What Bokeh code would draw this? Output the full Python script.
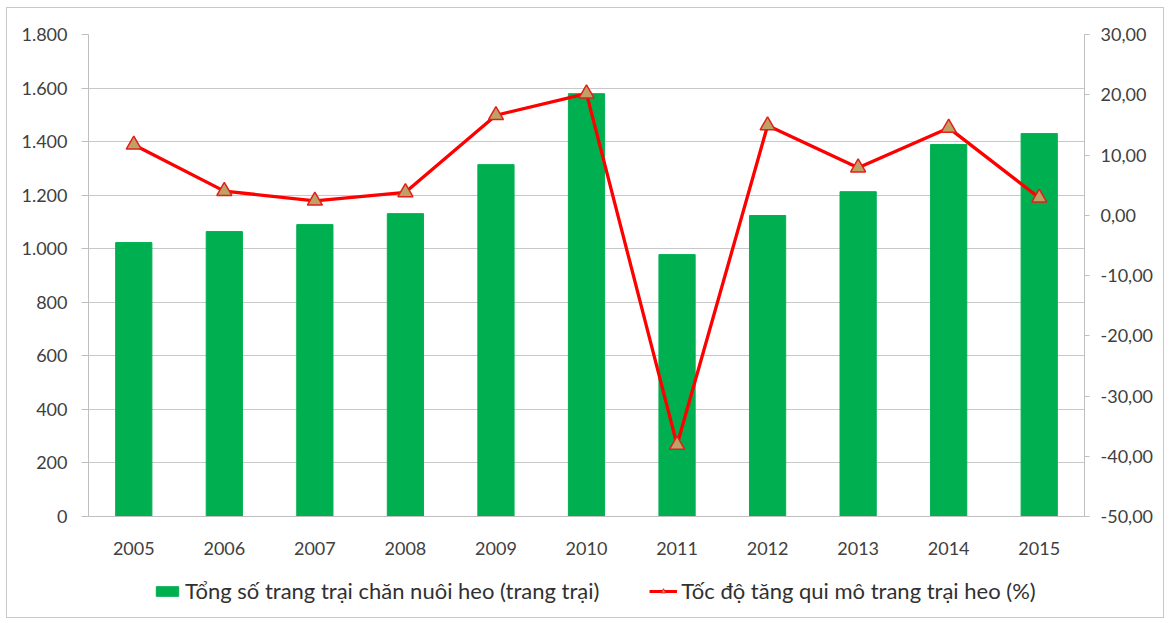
from bokeh.plotting import figure
from bokeh.layouts import column
from bokeh.models import (Range1d, LinearAxis, FixedTicker, Legend, LegendItem, FactorRange)
from bokeh.embed import file_html
from bokeh.resources import INLINE

years = ["2005", "2006", "2007", "2008", "2009", "2010", "2011", "2012", "2013", "2014", "2015"]
farms_total = [1023, 1064, 1090, 1131, 1314, 1579, 978, 1124, 1213, 1389, 1430]
growth_pct = [11.7, 4.0, 2.4, 3.8, 16.6, 20.2, -38.1, 14.9, 7.9, 14.5, 2.9]

left_ticks = [0, 200, 400, 600, 800, 1000, 1200, 1400, 1600, 1800]
left_labels = ["0", "200", "400", "600", "800", "1.000", "1.200", "1.400", "1.600", "1.800"]
right_ticks = [-50, -40, -30, -20, -10, 0, 10, 20, 30]
right_labels = ["-50,00", "-40,00", "-30,00", "-20,00", "-10,00", "0,00", "10,00", "20,00", "30,00"]

bar_name = "Tổng số trang trại chăn nuôi heo (trang trại)"
line_name = "Tốc độ tăng qui mô trang trại heo (%)"

FONT = "Lato"
LABEL_COLOR = "#404040"
AXIS_COLOR = "#bfbfbf"
BAR_COLOR = "#00B050"
LINE_COLOR = "#FF0000"
MK_FILL = "#BFA165"
MK_LINE = "#E0201A"

p = figure(width=1156, height=552, x_range=FactorRange(*years), y_range=Range1d(0, 1800),
           output_backend="svg", toolbar_location=None,
           min_border_left=81, min_border_right=79, min_border_top=26, min_border_bottom=44)
p.outline_line_color = None
p.background_fill_color = "white"
p.x_range.range_padding = 0
p.extra_y_ranges = {"pct": Range1d(-50, 30)}

p.vbar(x=years, top=farms_total, width=0.4, color=BAR_COLOR)
p.line(x=years, y=growth_pct, y_range_name="pct", line_color=LINE_COLOR, line_width=3.3)
p.scatter(x=years, y=growth_pct, y_range_name="pct", marker="triangle", size=15,
          fill_color=MK_FILL, line_color=MK_LINE, line_width=1.5)

# left axis
ya = p.yaxis[0]
ya.ticker = FixedTicker(ticks=left_ticks)
ya.major_label_overrides = {t: l for t, l in zip(left_ticks, left_labels)}
ya.axis_line_color = AXIS_COLOR
ya.major_tick_line_color = AXIS_COLOR
ya.major_tick_out = 7
ya.major_tick_in = 0
ya.minor_tick_line_color = None
ya.major_label_text_font = FONT
ya.major_label_text_font_size = "18px"
ya.major_label_text_color = LABEL_COLOR
ya.major_label_standoff = 14

# right axis
ra = LinearAxis(y_range_name="pct", ticker=FixedTicker(ticks=right_ticks))
ra.major_label_overrides = {t: l for t, l in zip(right_ticks, right_labels)}
ra.axis_line_color = AXIS_COLOR
ra.major_tick_line_color = AXIS_COLOR
ra.major_tick_out = 5
ra.major_tick_in = 0
ra.minor_tick_line_color = None
ra.major_label_text_font = FONT
ra.major_label_text_font_size = "18px"
ra.major_label_text_color = LABEL_COLOR
ra.major_label_standoff = 11
p.add_layout(ra, "right")

# bottom axis
xa = p.xaxis[0]
xa.axis_line_color = AXIS_COLOR
xa.major_tick_line_color = None
xa.major_label_text_font = FONT
xa.major_label_text_font_size = "18px"
xa.major_label_text_color = LABEL_COLOR
xa.major_label_standoff = 19

p.xgrid.grid_line_color = None
p.ygrid.ticker = FixedTicker(ticks=left_ticks)
p.ygrid.grid_line_color = "#c8c8c8"
p.ygrid.grid_line_width = 1

# legend strip (separate figure; key renderers hold a single NaN point, so they draw nothing)
nan = float("nan")
lf = figure(width=1156, height=57, output_backend="svg", toolbar_location=None,
            min_border=0, x_range=Range1d(0, 1), y_range=Range1d(0, 1))
lf.axis.visible = False
lf.grid.grid_line_color = None
lf.outline_line_color = None
kb = lf.vbar(x=[nan], top=[nan], width=0.4, color=BAR_COLOR)
kl = lf.line(x=[nan], y=[nan], line_color=LINE_COLOR, line_width=3)
km = lf.scatter(x=[nan], y=[nan], marker="triangle", size=13, fill_color=MK_FILL,
                line_color=MK_LINE, line_width=1)
legend = Legend(items=[LegendItem(label=bar_name, renderers=[kb], index=0),
                       LegendItem(label=line_name, renderers=[kl, km], index=0)],
                orientation="horizontal", location=(65, 13),
                label_text_font=FONT, label_text_font_size="22px", label_text_color="#303030",
                glyph_width=28, glyph_height=12, label_standoff=4, spacing=50,
                border_line_color=None, background_fill_alpha=0, margin=0, padding=4)
lf.add_layout(legend, "center")

layout = column(p, lf, spacing=0, margin=(7, 7, 5, 6),
                styles={"border": "1px solid #c8c8c8"})

open("out.html", "w").write(file_html(layout, INLINE))
